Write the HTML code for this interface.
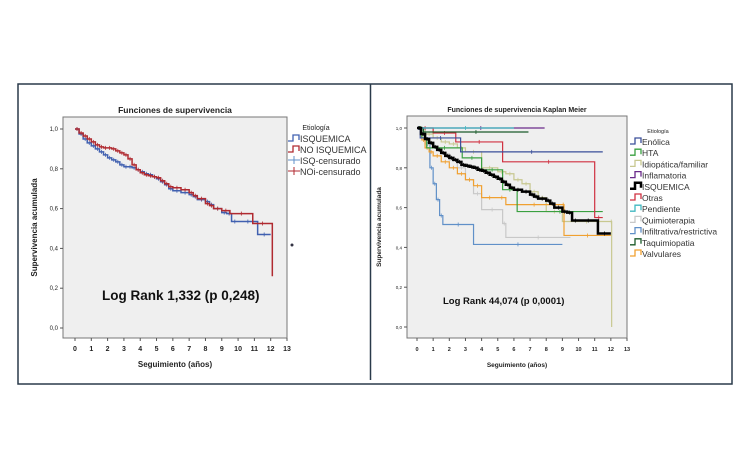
<!DOCTYPE html>
<html><head><meta charset="utf-8">
<style>
html,body{margin:0;padding:0;background:#fff;}
body{width:750px;height:469px;overflow:hidden;font-family:"Liberation Sans",sans-serif;}
svg text{font-family:"Liberation Sans",sans-serif;}
</style></head>
<body>
<svg id="svg" width="750" height="469" xmlns="http://www.w3.org/2000/svg">
<rect x="18" y="84" width="714" height="300" fill="none" stroke="#2a3a4a" stroke-width="1.5"/>
<line x1="370.5" y1="84" x2="370.5" y2="380" stroke="#2a3a4a" stroke-width="1.5"/>
</svg>
<script>
// ---- Left chart data ----
const leftNames=["ISQUEMICA","NO ISQUEMICA","ISQ-censurado","NOi-censurado"];
const isqT=[0,0.25,0.5,0.75,1,1.25,1.5,1.75,2,2.25,2.5,2.75,3,3.25,3.5,3.75,4,4.25,4.5,4.75,5,5.25,5.5,5.75,6,6.5,7,7.25,7.5,8,8.25,8.5,9,9.3,9.6,10,11.2,12];
const isqS=[1,0.975,0.95,0.93,0.915,0.9,0.885,0.87,0.855,0.845,0.835,0.82,0.81,0.81,0.805,0.795,0.785,0.775,0.77,0.76,0.75,0.735,0.72,0.7,0.69,0.68,0.67,0.66,0.645,0.635,0.62,0.6,0.58,0.575,0.535,0.535,0.47,0.47];
const noiT=[0,0.25,0.5,0.75,1,1.25,1.5,1.75,2,2.25,2.5,2.75,3,3.25,3.5,3.75,4,4.25,4.5,4.75,5,5.25,5.5,5.75,6,6.5,7,7.25,7.5,8,8.25,8.5,9,9.5,10.9,12.1];
const noiS=[1,0.98,0.965,0.95,0.935,0.92,0.91,0.905,0.905,0.9,0.89,0.88,0.87,0.85,0.82,0.795,0.78,0.77,0.765,0.76,0.755,0.74,0.725,0.71,0.705,0.695,0.68,0.665,0.65,0.625,0.615,0.6,0.59,0.575,0.525,0.26];
const xTicks=[0,1,2,3,4,5,6,7,8,9,10,11,12,13];
const yTicks=["0,0","0,2","0,4","0,6","0,8","1,0"];
// ---- Right chart data ----
const rightNames=["Enólica","HTA","Idiopática/familiar","Inflamatoria","ISQUEMICA","Otras","Pendiente","Quimioterapia","Infiltrativa/restrictiva","Taquimiopatia","Valvulares"];
const rightColors=["#3a4f9a","#3aa040","#c8c890","#6a2a8a","#000000","#d03040","#40b8c0","#c8c8c8","#6090c8","#1a5a2a","#f0a030"];
const enolT=[0,0.2,2.7,11.5]; const enolS=[1,0.95,0.88,0.88];
const htaT=[0,0.3,0.6,2.8,4,5.3,6.2,11.5]; const htaS=[1,0.95,0.9,0.85,0.79,0.69,0.58,0.58];
const idioT=[0,0.5,1,1.5,2,2.5,3,4,5,5.5,6,6.5,7,7.5,8,9,12,12.05]; const idioS=[1,0.97,0.95,0.93,0.92,0.9,0.88,0.8,0.78,0.77,0.74,0.72,0.68,0.65,0.58,0.53,0.53,0];
const inflT=[0,7.9]; const inflS=[1,1];
const isq2T=[0,0.25,0.5,0.75,1,1.25,1.5,1.75,2,2.25,2.5,2.75,3,3.25,3.5,3.75,4,4.25,4.5,4.75,5,5.25,5.5,5.75,6,6.5,7,7.25,7.5,8,8.25,8.5,9,9.3,9.6,10,11.2,12];
const isq2S=[1,0.97,0.945,0.925,0.905,0.89,0.875,0.86,0.85,0.84,0.83,0.815,0.81,0.805,0.8,0.79,0.785,0.775,0.765,0.755,0.745,0.73,0.715,0.7,0.69,0.68,0.665,0.655,0.645,0.635,0.62,0.6,0.58,0.575,0.535,0.535,0.47,0.47];
const otrT=[0,1,2.4,5.3,11,11.5]; const otrS=[1,0.975,0.93,0.83,0.55,0.55];
const pendT=[0,6]; const pendS=[1,1];
const quimT=[0,0.5,1,1.5,2,2.5,3,3.5,4,5.3,5.5,9.5]; const quimS=[1,0.92,0.9,0.87,0.84,0.8,0.74,0.67,0.59,0.52,0.45,0.45];
const infT=[0,0.5,0.8,1,1.2,1.4,1.6,3.5,9]; const infS=[1,0.92,0.8,0.72,0.64,0.56,0.515,0.415,0.415];
const taqT=[0,0.4,6.9]; const taqS=[1,0.98,0.98];
const valT=[0,0.3,0.5,0.75,1,1.5,2,2.5,3,3.5,4,5,5.5,9,9.1,12]; const valS=[1,0.94,0.9,0.88,0.86,0.83,0.8,0.77,0.74,0.71,0.65,0.65,0.615,0.615,0.46,0.46];

const svg=document.getElementById('svg');
const NS="http://www.w3.org/2000/svg";
function mk(tag,attrs,parent){const e=document.createElementNS(NS,tag);for(const k in attrs)e.setAttribute(k,attrs[k]);(parent||svg).appendChild(e);return e;}
function txt(x,y,s,size,opts,parent){const e=mk('text',Object.assign({x:x,y:y,'font-size':size,fill:'#222'},opts||{}),parent);e.textContent=s;return e;}

function panel(cfg){
  const g=mk('g',{});
  
  
  const xs=t=>cfg.x0+t*(cfg.x13-cfg.x0)/13;
  const ys=v=>cfg.y0+(cfg.y1-cfg.y0)*v;
  const r=mk('rect',{x:cfg.px,y:cfg.py,width:cfg.pw,height:cfg.ph,fill:'#efefef',stroke:'#777','stroke-width':1},g);
  
  
  const t=txt(cfg.px+cfg.pw/2,cfg.py-4,cfg.title,cfg.tsize,{'text-anchor':'middle','font-weight':'bold'},g);
  
  
  xTicks.forEach(v=>{
    const x=xs(v);
    mk('line',{x1:x,y1:cfg.py+cfg.ph,x2:x,y2:cfg.py+cfg.ph+3,stroke:'#555'},g);
    const l=txt(x,cfg.py+cfg.ph+13,String(v),cfg.fs,{'text-anchor':'middle','font-weight':'bold'},g);
    
    
  });
  yTicks.forEach((s,i)=>{
    const y=ys(i*0.2);
    mk('line',{x1:cfg.px-3,y1:y,x2:cfg.px,y2:y,stroke:'#555'},g);
    const l=txt(cfg.px-5,y+2,s,cfg.fs-1,{'text-anchor':'end'},g);
    
    
  });
  const xt=txt(cfg.px+cfg.pw/2,cfg.py+cfg.ph+29,"Seguimiento (años)",cfg.fs+1,{'text-anchor':'middle','font-weight':'bold'},g);
  
  
  const yx=cfg.px-26, yy=cfg.py+cfg.ph/2;
  const yt=txt(yx,yy,"Supervivencia acumulada",cfg.fs+1,{'text-anchor':'middle','font-weight':'bold',transform:`rotate(-90 ${yx} ${yy})`},g);
  
  
  cfg.series.forEach(s=>{
    let d=`M${xs(s.t[0])},${ys(s.s[0])}`;
    for(let i=1;i<s.t.length;i++){d+=` H${xs(s.t[i])} V${ys(s.s[i])}`;}
    const p=mk('path',{d:d,fill:'none',stroke:s.c,'stroke-width':s.w||1.3},g);
    
    
    for(let i=1;i<s.t.length;i++){
      const tm=(s.t[i-1]+s.t[i])/2;
      const x=xs(tm),y=ys(s.s[i-1]);
      mk('line',{x1:x,y1:y-2,x2:x,y2:y+2,stroke:s.c,'stroke-width':0.8},g);
    }
  });
  const lr=txt(cfg.lrx,cfg.lry,cfg.lr,cfg.lrs,{'font-weight':'bold',fill:'#111'},g);
  
  
  const lt=txt(cfg.lx+28,cfg.ly-8,"Etiología",cfg.fs,{'text-anchor':'middle'},g);
  
  
  cfg.legend.forEach((e,i)=>{
    const y=cfg.ly+i*cfg.lstep;
    const le=mk('g',{},g);
    
    
    if(e.cross){mk('path',{d:`M${cfg.lx},${y} H${cfg.lx+12} M${cfg.lx+6},${y-4} V${y+4}`,stroke:e.c,fill:'none','stroke-width':1},le);}
    else mk('path',{d:`M${cfg.lx},${y+3} H${cfg.lx+5} V${y-3} H${cfg.lx+11} V${y+2}`,stroke:e.c,fill:'none','stroke-width':e.w||1.3},le);
    txt(cfg.lx+12,y+4,e.n,cfg.lfs,{fill:'#333'},le);
  });
}

panel({name:'left-chart',px:63,py:117,pw:224,ph:221,x0:75,x13:287,y0:328,y1:129,title:"Funciones de supervivencia",tsize:8.5,fs:7,
  series:[{n:"ISQUEMICA",t:isqT,s:isqS,c:'#4060b0',w:1.5},{n:"NO ISQUEMICA",t:noiT,s:noiS,c:'#b02a30',w:1.5}],
  lr:"Log Rank  1,332  (p 0,248)",lrx:102,lry:300,lrs:13.5,lx:288,ly:138,lstep:11,lfs:9,
  legend:[{n:leftNames[0],c:'#4060b0'},{n:leftNames[1],c:'#b02a30'},{n:leftNames[2],c:'#6090c8',cross:true},{n:leftNames[3],c:'#b02a30',cross:true}]});
mk('circle',{cx:292,cy:245,r:1.5,fill:'#334'});

const rs=[[enolT,enolS],[htaT,htaS],[idioT,idioS],[inflT,inflS],[isq2T,isq2S],[otrT,otrS],[pendT,pendS],[quimT,quimS],[infT,infS],[taqT,taqS],[valT,valS]];
const order=[8,7,2,10,1,5,0,9,3,6,4];
panel({name:'right-chart',px:407,py:116,pw:220,ph:222,x0:417,x13:627,y0:327,y1:128,title:"Funciones de supervivencia Kaplan Meier",tsize:7,fs:5.5,
  series:order.map(i=>({n:rightNames[i],t:rs[i][0],s:rs[i][1],c:rightColors[i],w:i===4?2.5:1.2})),
  lr:"Log Rank   44,074 (p 0,0001)",lrx:443,lry:304,lrs:9.5,lx:630,ly:141,lstep:11.2,lfs:8.5,
  legend:rightNames.map((n,i)=>({n:n,c:rightColors[i],w:i===4?2.5:1.3}))});
</script>
</body></html>
